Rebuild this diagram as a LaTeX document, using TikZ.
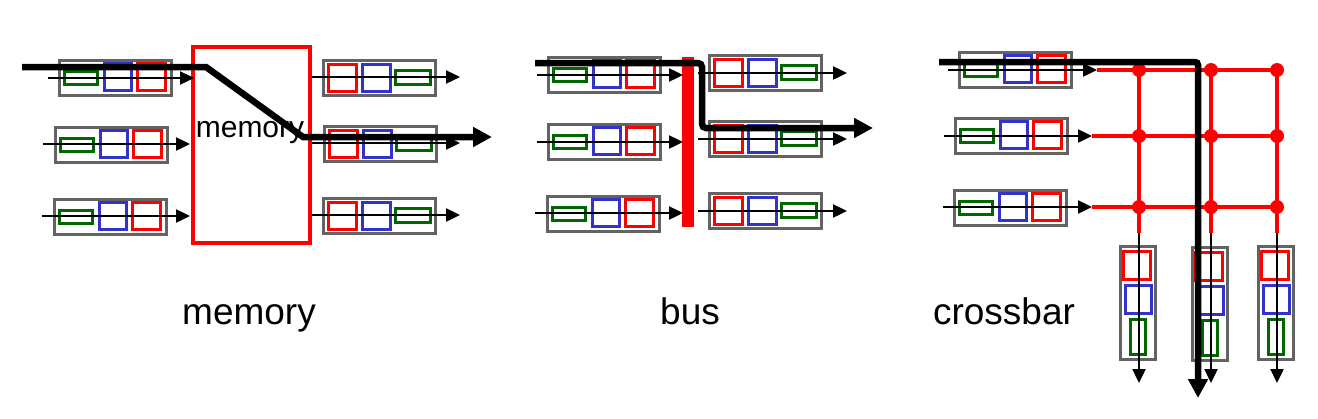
\documentclass[tikz,border=0pt]{standalone}
\usepackage{fontspec}
\setmainfont{Liberation Sans}
\usetikzlibrary{arrows.meta}
\definecolor{qgray}{HTML}{636363}
\definecolor{qgreen}{HTML}{006600}
\definecolor{qblue}{HTML}{3333CC}
\definecolor{qred}{HTML}{FF0000}
\tikzset{
 qbox/.style={draw=qgray,line width=3.4pt,fill=white},
 gcell/.style={draw=qgreen,line width=3.2pt},
 bcell/.style={draw=qblue,line width=3.2pt},
 rcell/.style={draw=qred,line width=3.2pt},
 flow/.style={line width=2.4pt,-{Triangle[length=14pt,width=13pt]}},
 bigflow/.style={line width=6.5pt,-{Triangle[length=19pt,width=19pt]}},
 xline/.style={draw=qred,line width=4.5pt},
 xdot/.style={fill=qred},
 captext/.style={font=\fontsize{37}{40}\selectfont,anchor=base,inner sep=0pt},
 memtext/.style={font=\fontsize{30}{34}\selectfont,anchor=base,inner sep=0pt}
}
\newcommand\inqueue[2]{%
 \begin{scope}[shift={(#1,#2)}]
 \draw[qbox] (1.5,1.5) rectangle (113.5,36.5);
 \draw[gcell] (6.5,12.5) rectangle (39.5,25.5);
 \draw[bcell] (46.5,4.5) rectangle (73.5,31.5);
 \draw[rcell] (79.5,4.5) rectangle (107.5,31.5);
 \end{scope}}
\newcommand\outqueue[2]{%
 \begin{scope}[shift={(#1,#2)}]
 \draw[qbox] (1.5,1.5) rectangle (113.5,36.5);
 \draw[rcell] (6.5,5.5) rectangle (34.5,32.5);
 \draw[bcell] (40.5,5.5) rectangle (68.5,32.5);
 \draw[gcell] (73.5,11.5) rectangle (108.5,25.5);
 \end{scope}}
\newcommand\vqueue[2]{%
 \begin{scope}[shift={(#1,#2)}]
 \draw[qbox] (1.5,1.5) rectangle (36.5,114.5);
 \draw[rcell] (4.5,6.5) rectangle (31.5,34.5);
 \draw[bcell] (6.5,40.5) rectangle (32.5,68.5);
 \draw[gcell] (11.5,74.5) rectangle (26.5,109.5);
 \end{scope}}
\begin{document}
\begin{tikzpicture}[x=1pt,y=-1pt]
\useasboundingbox (0,0) rectangle (1318,418);
% ---------- memory ----------
\inqueue{58}{59}
\inqueue{54}{126}
\inqueue{53}{198}
\draw[xline,line width=4pt] (193,47) rectangle (310,243);
\node[memtext] (memin) at (250,137) {memory};
\outqueue{322}{59}
\outqueue{323}{125}
\outqueue{322}{197}
\coordinate (ma1) at (48,78);  \coordinate (mb1) at (194,78);
\coordinate (ma2) at (43,144); \coordinate (mb2) at (190,144);
\coordinate (ma3) at (42,216); \coordinate (mb3) at (190,216);
\coordinate (mc1) at (312,77); \coordinate (md1) at (460,77);
\coordinate (mc2) at (312,143); \coordinate (md2) at (460,143);
\coordinate (mc3) at (312,215); \coordinate (md3) at (460,215);
\foreach \i in {1,2,3} {\draw[flow] (ma\i) -- (mb\i); \draw[flow] (mc\i) -- (md\i);}
\coordinate (mt0) at (22,67); \coordinate (mt1) at (206,67);
\coordinate (mt2) at (303,137); \coordinate (mt3) at (492,137);
\draw[bigflow] (mt0) -- (mt1) -- (mt2) -- (mt3);
\node[captext] (memcap) at (249,324) {memory};
% ---------- bus ----------
\inqueue{547}{56}
\inqueue{547}{123}
\inqueue{546}{195}
\fill[qred] (682,57) rectangle (694,227);
\outqueue{708}{54}
\outqueue{708}{120}
\outqueue{708}{192}
\coordinate (ba1) at (537,75);  \coordinate (bb1) at (683,75);
\coordinate (ba2) at (537,142); \coordinate (bb2) at (683,142);
\coordinate (ba3) at (535,213); \coordinate (bb3) at (683,213);
\coordinate (bc1) at (698,73);  \coordinate (bd1) at (847,73);
\coordinate (bc2) at (698,139); \coordinate (bd2) at (847,139);
\coordinate (bc3) at (698,211); \coordinate (bd3) at (847,211);
\foreach \i in {1,2,3} {\draw[flow] (ba\i) -- (bb\i); \draw[flow] (bc\i) -- (bd\i);}
\coordinate (bt0) at (535,63); \coordinate (bt1) at (702,63);
\coordinate (bt2) at (702,128); \coordinate (bt3) at (873,128);
\draw[bigflow,rounded corners=4pt] (bt0) -- (bt1) -- (bt2) -- (bt3);
\node[captext] (buscap) at (690,324) {bus};
% ---------- crossbar ----------
\inqueue{958}{51}
\inqueue{954}{117}
\inqueue{953}{189}
\vqueue{1119}{245}
\vqueue{1191}{246}
\vqueue{1257}{245}
\coordinate (r1) at (1097,70); \coordinate (r2) at (1092,136); \coordinate (r3) at (1092,207);
\coordinate (re1) at (1277,70); \coordinate (re2) at (1277,136); \coordinate (re3) at (1277,207);
\coordinate (c1) at (1139,70); \coordinate (c2) at (1211,70); \coordinate (c3) at (1277,70);
\coordinate (ce1) at (1139,233); \coordinate (ce2) at (1211,233); \coordinate (ce3) at (1277,233);
\coordinate (co1) at (1139,383); \coordinate (co2) at (1211,383); \coordinate (co3) at (1277,383);
\foreach \i in {1,2,3} {\draw[xline] (r\i) -- (re\i); \draw[xline] (c\i) -- (ce\i);}
\foreach \x in {1139,1211,1277} \foreach \y in {70,136,207} {\fill[xdot] (\x,\y) circle (7);}
\coordinate (ca1) at (948,70);  \coordinate (ca2) at (944,136); \coordinate (ca3) at (943,207);
\foreach \i in {1,2,3} {\draw[flow] (ca\i) -- (r\i); \draw[flow] (ce\i) -- (co\i);}
\coordinate (ct0) at (939,62); \coordinate (ct1) at (1198,62); \coordinate (ct2) at (1198,398);
\draw[bigflow,rounded corners=3pt] (ct0) -- (ct1) -- (ct2);
\node[captext] (xbcap) at (1004,324) {crossbar};
\end{tikzpicture}
\end{document}
